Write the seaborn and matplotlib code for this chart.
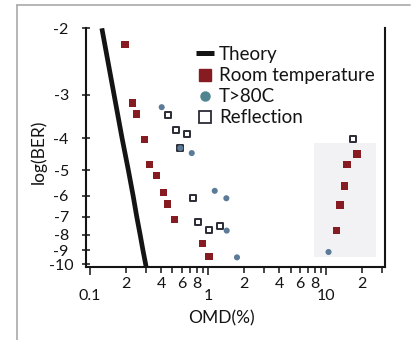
import math
import numpy as np
import pandas as pd
import matplotlib
matplotlib.use("Agg")
import matplotlib.pyplot as plt
import seaborn as sns
from matplotlib.lines import Line2D
from matplotlib.patches import Rectangle
from matplotlib.ticker import FixedLocator, FixedFormatter

# ---------------- data (OMD in %, log10 BER) ----------------
theory_omd = [0.126, 0.160, 0.187, 0.2115, 0.232, 0.249, 0.266, 0.281, 0.296, 0.299]
theory_logber = [-2, -3, -4, -5, -6, -7, -8, -9, -10, -10.23]

room_omd = [0.198, 0.230, 0.249, 0.289, 0.318, 0.367, 0.421, 0.452, 0.522,
            0.902, 1.02, 12.3, 13.1, 14.4, 15.1, 18.3]
room_logber = [-2.20, -3.16, -3.40, -4.03, -4.80, -5.19, -5.86, -6.37, -7.15,
               -8.54, -9.46, -7.74, -6.42, -5.59, -4.79, -4.46]

hot_omd = [0.405, 0.582, 0.728, 1.14, 1.43, 1.44, 1.76, 10.5]
hot_logber = [-3.25, -4.28, -4.43, -5.79, -6.11, -7.76, -9.50, -9.12]

refl_omd = [0.455, 0.532, 0.661, 0.582, 0.742, 0.818, 1.02, 1.27, 16.8]
refl_logber = [-3.43, -3.79, -3.88, -4.28, -6.09, -7.28, -7.73, -7.50, -4.03]

y_ticks = [-2, -3, -4, -5, -6, -7, -8, -9, -10]
y_labels = ["-2", "-3", "-4", "-5", "-6", "-7", "-8", "-9", "-10"]
x_major = [0.1, 1, 10]
x_major_labels = ["0.1", "1", "10"]
x_minor = [0.2, 0.3, 0.4, 0.5, 0.6, 0.7, 0.8, 0.9, 2, 3, 4, 5, 6, 7, 8, 9, 20, 30]
x_minor_labels = ["2", "", "4", "", "6", "", "8", "", "2", "", "4", "", "6", "", "8", "", "2", ""]

# ---------------- BER (Q-factor, log-log) scale ----------------
_q = np.linspace(0.05, 12.0, 6000)
_lb = np.log10(0.5 * np.array([math.erfc(v / math.sqrt(2)) for v in _q]))


def _fwd(y):
    y = np.asarray(y, dtype=float)
    q = np.interp(-y, -_lb, _q)
    return -np.log10(q)


def _inv(t):
    t = np.asarray(t, dtype=float)
    q = 10.0 ** (-t)
    return np.interp(q, _q, _lb)


sns.set_theme(style="white")
plt.rcParams["font.family"] = ["Lato", "DejaVu Sans"]

fig = plt.figure(figsize=(4.16, 3.4), dpi=100)
ax = fig.add_axes([86 / 416, 1 - 267 / 340, 299 / 416, 238.7 / 340])

ink = "#141414"
red = "#861c22"
blue = "#5b7b98"
edge = "#2b2b36"

# very light grey inset patch (scanned-image artefact)
ax.add_patch(Rectangle((0.7625, 0.043), 0.2075, 0.475, transform=ax.transAxes,
                       facecolor="#f2f2f4", edgecolor="none", zorder=0.5))

sns.lineplot(x=theory_omd, y=theory_logber, sort=False, estimator=None,
             color=ink, lw=3.4, ax=ax, solid_capstyle="butt", zorder=2)
sns.scatterplot(x=refl_omd, y=refl_logber, marker="s", s=20, facecolor="white",
                edgecolor=edge, linewidth=1.4, ax=ax, zorder=3)
sns.scatterplot(x=room_omd, y=room_logber, marker="s", s=28, color=red,
                edgecolor="none", ax=ax, zorder=4)
sns.scatterplot(x=hot_omd, y=hot_logber, marker="o", s=19, color=blue,
                edgecolor="none", ax=ax, zorder=4)

ax.set_xscale("log")
ax.set_yscale("function", functions=(_fwd, _inv))
ax.set_xlim(0.0925, 31.6)
ax.set_ylim(-10.23, -2)

ax.xaxis.set_major_locator(FixedLocator(x_major))
ax.xaxis.set_major_formatter(FixedFormatter(x_major_labels))
ax.xaxis.set_minor_locator(FixedLocator(x_minor))
ax.xaxis.set_minor_formatter(FixedFormatter(x_minor_labels))
ax.yaxis.set_major_locator(FixedLocator(y_ticks))
ax.yaxis.set_major_formatter(FixedFormatter(y_labels))
ax.yaxis.set_minor_locator(FixedLocator([]))

ax.tick_params(axis="y", which="major", direction="inout", length=5.8, width=1.1,
               color=ink, pad=15, labelsize=11.5, labelcolor=ink, left=True)
ax.tick_params(axis="x", which="major", direction="out", length=5.8, width=1.1,
               color=ink, pad=10, labelsize=11.5, labelcolor=ink, bottom=True)
ax.tick_params(axis="x", which="minor", direction="out", length=4.3, width=1.1,
               color=ink, pad=3, labelsize=11.5, labelcolor=ink, bottom=True)
for lbl in ax.get_yticklabels():
    lbl.set_horizontalalignment("center")

for side in ("left", "bottom", "right"):
    ax.spines[side].set_visible(True)
    ax.spines[side].set_color(ink)
    ax.spines[side].set_linewidth(1.5)
ax.spines["top"].set_visible(False)
ax.grid(False)

ax.set_xlabel("OMD(%)", fontsize=12.5, color=ink)
ax.xaxis.set_label_coords(0.454, -0.18)
ax.xaxis.label.set_verticalalignment("top")
ax.set_ylabel("log(BER)", fontsize=12.5, color=ink)
ax.yaxis.set_label_coords(-0.13, 0.482)

handles = [
    Line2D([], [], color=ink, lw=3.6, solid_capstyle="butt"),
    Line2D([], [], ls="none", marker="s", markersize=8.5, color=red, markeredgecolor=red),
    Line2D([], [], ls="none", marker="o", markersize=6.5, color="#4f8490", markeredgecolor="#4f8490"),
    Line2D([], [], ls="none", marker="s", markersize=8.5, markerfacecolor="white",
           markeredgecolor=edge, markeredgewidth=1.3),
]
labels = ["Theory", "Room temperature", "T>80C", "Reflection"]
ax.legend(handles, labels, loc="upper left", bbox_to_anchor=(0.367, 0.926),
          frameon=False, handlelength=0.95, handletextpad=0.3, labelspacing=0.22,
          borderaxespad=0, borderpad=0, fontsize=13.5, labelcolor=ink)

# outer scan frame (left and top edges)
fig.add_artist(Line2D([17 / 416, 17 / 416], [0, 1 - 5 / 340], transform=fig.transFigure,
                      color="#a9a9a9", lw=1.2))
fig.add_artist(Line2D([17 / 416, 410 / 416], [1 - 5 / 340, 1 - 5 / 340], transform=fig.transFigure,
                      color="#a9a9a9", lw=1.2))

fig.savefig("out.png", dpi=100)
